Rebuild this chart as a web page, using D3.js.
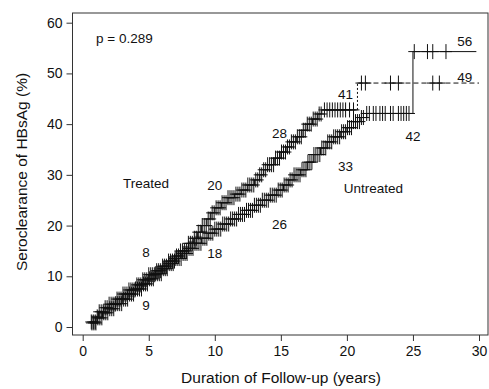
<!DOCTYPE html>
<html>
<head>
<meta charset="utf-8">
<script src="https://cdn.jsdelivr.net/npm/d3@7"></script>
<style>
  body { margin: 0; background: #fff; }
  svg text { font-family: "Liberation Sans", Arial, sans-serif; fill: #111; }
</style>
</head>
<body>
<div id="chart"></div>
<script>

// step points [years, cumulative %]
const treatedSteps = [
  [0.6, 1.0], [1.0, 2.0], [1.2, 3.0], [1.6, 3.8], [2.0, 4.5], [2.5, 5.5], [3.0, 6.5], [3.4, 7.3],
  [4.0, 8.3], [4.5, 9.3], [5.0, 10.3], [5.5, 11.1], [6.0, 12.0], [6.5, 13.0], [7.0, 14.0], [7.4, 15.0],
  [8.0, 16.5], [8.4, 17.5], [8.7, 18.7], [9.0, 20.0], [9.4, 21.3], [9.7, 22.5], [10.0, 23.5], [10.5, 24.5],
  [11.0, 25.5], [11.5, 26.2], [12.0, 27.0], [12.5, 28.0], [13.0, 29.0], [13.4, 30.0], [13.7, 31.0], [14.0, 32.0],
  [14.5, 33.3], [15.0, 34.5], [15.4, 35.5], [15.8, 36.5], [16.2, 37.5], [16.6, 38.8], [17.0, 40.0], [17.4, 41.0],
  [17.8, 42.0], [18.1, 42.8], [20.8, 42.8]
];
const treatedTail = [[20.8, 42.8], [20.8, 48.1], [30.0, 48.1]];

const untreatedSteps = [
  [0.6, 0.8], [1.1, 1.8], [1.5, 2.8], [2.0, 3.6], [2.5, 4.6], [3.0, 5.5], [3.5, 6.5], [4.0, 7.5],
  [4.5, 8.5], [5.0, 9.5], [5.5, 10.5], [6.0, 11.5], [6.5, 12.5], [7.0, 13.5], [7.5, 14.5], [8.0, 15.5],
  [8.5, 16.5], [9.0, 17.5], [9.5, 18.5], [10.0, 19.3], [10.6, 20.3], [11.2, 21.3], [11.8, 22.2], [12.4, 23.0],
  [13.0, 24.0], [13.6, 25.0], [14.2, 26.0], [14.7, 27.0], [15.2, 28.0], [15.6, 29.0], [16.0, 30.0], [16.5, 31.0],
  [17.0, 32.5], [17.5, 34.0], [18.0, 35.3], [18.5, 36.5], [19.0, 37.5], [19.5, 38.5], [20.0, 39.3], [20.5, 40.5],
  [21.0, 41.3], [21.5, 42.1], [25.0, 42.1], [25.0, 54.3], [29.8, 54.3]
];

// censoring times
const treatedCensor = [
  0.65, 0.8, 0.95, 1.1, 1.25, 1.4, 1.55, 1.7, 1.85, 2.0, 2.15, 2.3, 2.45, 2.6, 2.75, 2.9, 3.05, 3.2,
  3.35, 3.5, 3.65, 3.8, 3.95, 4.1, 4.25, 4.4, 4.55, 4.7, 4.85, 5.0, 5.15, 5.3, 5.45, 5.6, 5.75, 5.9,
  6.05, 6.2, 6.35, 6.5, 6.65, 6.8, 6.95, 7.1, 7.25, 7.4, 7.55, 7.7, 7.85, 8.0, 8.15, 8.3, 8.45, 8.6,
  8.75, 8.9, 9.05, 9.2, 9.35, 9.5, 9.65, 9.8, 9.95, 10.1, 10.25, 10.4, 10.55, 10.7, 10.85, 11.0,
  11.15, 11.3, 11.45, 11.6, 11.75, 11.9, 12.05, 12.2, 12.35, 12.5, 12.65, 12.8, 12.95, 13.1, 13.25,
  13.4, 13.55, 13.7, 13.85, 14.0, 14.15, 14.3, 14.45, 14.6, 14.75, 14.9, 15.05, 15.2, 15.35, 15.5,
  15.65, 15.8, 15.95, 16.1, 16.25, 16.4, 16.55, 16.7, 16.85, 17.0, 17.15, 17.3, 17.45, 17.6, 17.75,
  17.9, 18.05,
  18.3, 18.5, 18.7, 18.9, 19.1, 19.3, 19.5, 19.7, 19.9, 20.2, 20.5,
  21.1, 21.4, 23.3, 23.9, 26.5, 27.0
];
const untreatedCensor = [
  0.7, 0.85, 1.0, 1.15, 1.3, 1.45, 1.6, 1.75, 1.9, 2.05, 2.2, 2.35, 2.5, 2.65, 2.8, 2.95, 3.1, 3.25,
  3.4, 3.55, 3.7, 3.85, 4.0, 4.15, 4.3, 4.45, 4.6, 4.75, 4.9, 5.05, 5.2, 5.35, 5.5, 5.65, 5.8, 5.95,
  6.1, 6.25, 6.4, 6.55, 6.7, 6.85, 7.0, 7.15, 7.3, 7.45, 7.6, 7.75, 7.9, 8.05, 8.2, 8.35, 8.5, 8.65,
  8.8, 8.95, 9.1, 9.25, 9.4, 9.55, 9.7, 9.85, 10.0, 10.15, 10.3, 10.45, 10.6, 10.75, 10.9, 11.05,
  11.2, 11.35, 11.5, 11.65, 11.8, 11.95, 12.1, 12.25, 12.4, 12.55, 12.7, 12.85, 13.0, 13.15, 13.3,
  13.45, 13.6, 13.75, 13.9, 14.05, 14.2, 14.35, 14.5, 14.65, 14.8, 14.95, 15.1, 15.25, 15.4, 15.55,
  15.7, 15.85, 16.0, 16.15, 16.3, 16.45, 16.6, 16.75, 16.9, 17.05, 17.2, 17.35, 17.5, 17.65, 17.8,
  17.95, 18.1, 18.25, 18.4, 18.55, 18.7, 18.85, 19.0, 19.15, 19.3, 19.45, 19.6, 19.75, 19.9, 20.05,
  20.2, 20.35, 20.5, 20.65, 20.8, 20.95, 21.1, 21.25,
  21.5, 21.7, 22.0, 22.2, 22.5, 22.7, 22.9, 23.3, 23.5, 23.9, 24.1, 24.3, 24.5, 24.7,
  25.1, 26.1, 26.5, 27.5
];

const xTicks = [0, 5, 10, 15, 20, 25, 30];
const yTicks = [0, 10, 20, 30, 40, 50, 60];

// at-risk numbers and labels [x, y, text]
const labels = [
  [4.8, 14.8, "8"], [10, 27.9, "20"], [14.9, 38.1, "28"], [19.9, 45.9, "41"], [29.5, 56.3, "56"],
  [4.8, 4.3, "9"], [10, 14.6, "18"], [14.9, 20.3, "26"], [19.9, 31.6, "33"], [25, 37.7, "42"], [29.5, 49.2, "49"],
  [4.8, 28.4, "Treated"], [22, 27.3, "Untreated"]
];

const W = 489, H = 389;
const box = {left: 72.5, right: 488, top: 13, bottom: 335};

const svg = d3.select("#chart").append("svg")
    .attr("width", W)
    .attr("height", H);

const x = d3.scaleLinear().domain([0, 30]).range([82.7, 479]);
const y = d3.scaleLinear().domain([0, 60]).range([327, 22.7]);

// frame
svg.append("rect")
    .attr("x", box.left).attr("y", box.top)
    .attr("width", box.right - box.left).attr("height", box.bottom - box.top)
    .attr("fill", "none").attr("stroke", "#333").attr("stroke-width", 1);

// axes
const yAxis = svg.append("g")
    .attr("transform", `translate(${box.left},0)`)
    .call(d3.axisLeft(y).tickValues(yTicks).tickSize(6).tickPadding(4));
const xAxis = svg.append("g")
    .attr("transform", `translate(0,${box.bottom})`)
    .call(d3.axisBottom(x).tickValues(xTicks).tickSize(6).tickPadding(5));

[xAxis, yAxis].forEach(a => {
    a.select(".domain").remove();
    a.selectAll("line").attr("stroke", "#333");
    a.selectAll("text").style("font-size", "14px").attr("fill", "#111");
});

svg.append("text")
    .attr("x", 281).attr("y", 383)
    .attr("text-anchor", "middle")
    .style("font-size", "15.5px")
    .text("Duration of Follow-up (years)");

svg.append("text")
    .attr("transform", "translate(27,172) rotate(-90)")
    .attr("text-anchor", "middle")
    .style("font-size", "15.5px")
    .text("Seroclearance of HBsAg (%)");

svg.append("text")
    .attr("x", 96).attr("y", 43)
    .style("font-size", "13.5px")
    .text("p = 0.289");

// curves
const line = d3.line()
    .x(d => x(d[0]))
    .y(d => y(d[1]))
    .curve(d3.curveStepAfter);

svg.append("path").datum(treatedSteps)
    .attr("d", line).attr("fill", "none").attr("stroke", "#111").attr("stroke-width", 1);
svg.append("path").datum(treatedTail.slice(0, 2))
    .attr("d", line).attr("fill", "none").attr("stroke", "#111").attr("stroke-width", 1)
    .attr("stroke-dasharray", "2,2");
svg.append("path").datum(treatedTail.slice(1))
    .attr("d", line).attr("fill", "none").attr("stroke", "#111").attr("stroke-width", 1)
    .attr("stroke-dasharray", "5,3");
svg.append("path").datum(untreatedSteps)
    .attr("d", line).attr("fill", "none").attr("stroke", "#111").attr("stroke-width", 1);

// value of a step curve at time t
function stepValue(steps, t) {
    let v = steps[0][1];
    steps.forEach(d => { if (d[0] <= t) v = d[1]; });
    return v;
}

const allTreated = treatedSteps.concat(treatedTail.slice(1));

// "+" censor marks
function drawCensor(times, steps) {
    const g = svg.append("g").attr("stroke", "#111").attr("stroke-width", 1);
    const marks = g.selectAll("g")
        .data(times)
        .enter().append("g")
        .attr("transform", d => `translate(${x(d)},${y(stepValue(steps, d))})`);
    marks.append("line").attr("x1", 0).attr("x2", 0).attr("y1", -7.5).attr("y2", 7.5);
    marks.append("line").attr("x1", -6).attr("x2", 6).attr("y1", 0).attr("y2", 0);
}
drawCensor(treatedCensor, allTreated);
drawCensor(untreatedCensor, untreatedSteps);

// labels
svg.append("g").selectAll("text")
    .data(labels)
    .enter().append("text")
    .attr("x", d => x(d[0]))
    .attr("y", d => y(d[1]))
    .attr("text-anchor", d => d[2] === "56" || d[2] === "49" ? "end" : "middle")
    .attr("dy", "0.35em")
    .style("font-size", "13.5px")
    .text(d => d[2]);

</script>
</body>
</html>
